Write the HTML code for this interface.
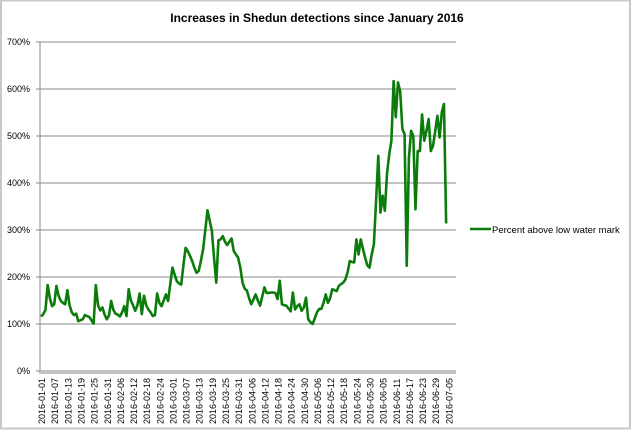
<!DOCTYPE html>
<html><head><meta charset="utf-8"><style>
body{margin:0;background:#fff}
#c{position:relative;width:632px;height:431px;overflow:hidden}
text{font-family:"Liberation Sans",sans-serif}
</style></head><body>
<div id="c">
<svg id="s" width="632" height="431" xmlns="http://www.w3.org/2000/svg">
<rect x="0" y="0" width="632" height="431" fill="#fff"/>
<rect x="1" y="0.5" width="629" height="428" fill="none" stroke="#c8c8c8" stroke-width="2"/>
<text x="317" y="22" text-anchor="middle" font-size="12" font-weight="bold" fill="#000">Increases in Shedun detections since January 2016</text>
<g id="grid"></g>
<g id="yt"></g>
<g id="xt"></g>
<path id="ln" fill="none" stroke="#0b7c0b" stroke-width="2.6" stroke-linejoin="round"/>
<g>
<line x1="470" y1="229" x2="491" y2="229" stroke="#0b7c0b" stroke-width="2.6"/>
<text x="492" y="233" font-size="9.5" fill="#000">Percent above low water mark</text>
</g>
</svg>
</div>
<script>
const yTicks=[0,100,200,300,400,500,600,700];
const yTickLabels=["0%","100%","200%","300%","400%","500%","600%","700%"];
const values=[116,121,130,183,155,138,142,181,160,149,145,142,172,140,125,119,122,106,108,110,119,117,115,108,101,183,140,129,135,120,110,118,149,130,122,120,116,125,138,117,174,150,140,128,140,165,121,160,140,131,125,117,119,165,145,138,150,163,149,185,220,205,191,186,184,225,262,255,245,234,220,209,213,235,259,300,342,320,298,240,188,278,280,287,275,268,275,282,255,248,241,220,188,175,171,155,142,152,163,150,139,158,178,166,166,167,167,166,153,192,142,140,139,133,127,167,131,138,142,128,135,156,110,104,100,112,125,132,132,145,163,145,155,174,172,170,181,185,188,195,210,234,232,231,280,248,280,260,241,225,220,248,270,362,458,337,373,341,420,461,490,617,540,614,595,515,504,224,454,511,500,344,468,468,546,490,511,536,468,479,510,543,497,550,568,314];
const nCats=190;
const startDate="2016-01-01";
const labelEvery=6;
const X0=40,X1=456,Y0=371,Y1=42,YMAX=700;
const NS="http://www.w3.org/2000/svg";
function xPos(i){return X0+(X1-X0)/nCats*(i+0.5);}
function yPos(v){return Y0-(Y0-Y1)*v/YMAX;}
function catLabel(i){const d=new Date(Date.UTC(2016,0,1)+i*86400000);return d.toISOString().slice(0,10);}
const grid=document.getElementById('grid'),yt=document.getElementById('yt'),xt=document.getElementById('xt');
yTicks.forEach((t,k)=>{
 const y=yPos(t);
 const l=document.createElementNS(NS,'line');
 l.setAttribute('x1',36);l.setAttribute('x2',X1);l.setAttribute('y1',y);l.setAttribute('y2',y);
 l.setAttribute('stroke','#888');l.setAttribute('stroke-width','0.9');
 
 
 grid.appendChild(l);
 const tx=document.createElementNS(NS,'text');
 tx.setAttribute('x',30);tx.setAttribute('y',y+3);tx.setAttribute('text-anchor','end');tx.setAttribute('font-size','9');
 tx.textContent=yTickLabels[k];
 
 
 yt.appendChild(tx);
});
const ax=document.createElementNS(NS,'line');
ax.setAttribute('x1',X0);ax.setAttribute('x2',X0);ax.setAttribute('y1',Y1);ax.setAttribute('y2',Y0+3);ax.setAttribute('stroke','#888');


grid.appendChild(ax);
const xb=document.createElementNS(NS,'rect');
xb.setAttribute('x',X0);xb.setAttribute('y',Y0);xb.setAttribute('width',X1-X0);xb.setAttribute('height',3);xb.setAttribute('fill','#c4c4c4');


grid.appendChild(xb);
for(let i=0;i<nCats;i+=labelEvery){
 const x=xPos(i)+1;
 const tx=document.createElementNS(NS,'text');
 tx.setAttribute('transform','translate('+(x+3)+',424) rotate(-90)');
 tx.setAttribute('font-size','9');
 tx.textContent=catLabel(i);
 
 
 xt.appendChild(tx);
}
let d='';
values.forEach((v,i)=>{d+=(i?'L':'M')+xPos(i).toFixed(2)+' '+yPos(v).toFixed(2);});
document.getElementById('ln').setAttribute('d',d);
</script>
</body></html>
